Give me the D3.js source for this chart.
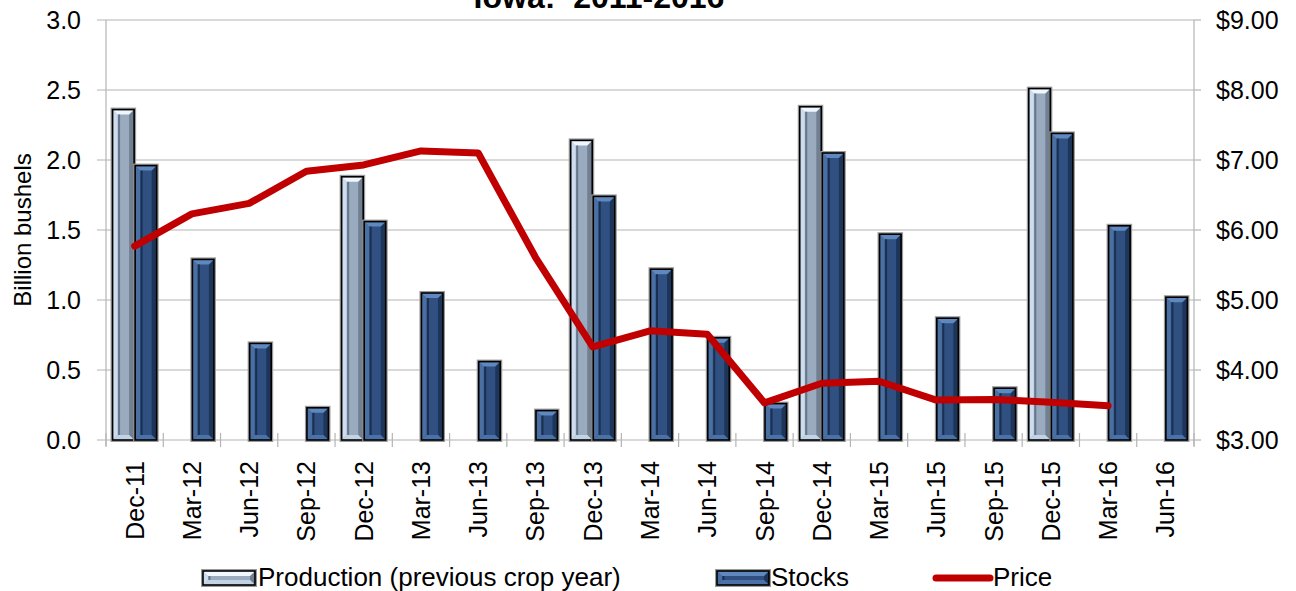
<!DOCTYPE html>
<html><head><meta charset="utf-8">
<script src="https://cdn.jsdelivr.net/npm/d3@7"></script>
<style>body{margin:0;background:#fff;} svg{display:block;font-family:"Liberation Sans",Arial,sans-serif;}</style>
</head><body>
<svg id="c" width="1296" height="591"></svg>
<script>
const categories = ["Dec-11","Mar-12","Jun-12","Sep-12","Dec-12","Mar-13","Jun-13","Sep-13","Dec-13","Mar-14","Jun-14","Sep-14","Dec-14","Mar-15","Jun-15","Sep-15","Dec-15","Mar-16","Jun-16"];
const production = [2.36,null,null,null,1.88,null,null,null,2.14,null,null,null,2.38,null,null,null,2.51,null,null];
const stocks = [1.96,1.29,0.69,0.23,1.56,1.05,0.56,0.21,1.74,1.22,0.73,0.26,2.05,1.47,0.87,0.37,2.19,1.53,1.02];
const price = [5.77,6.23,6.38,6.84,6.93,7.13,7.10,5.61,4.33,4.56,4.51,3.53,3.81,3.84,3.57,3.58,3.54,3.49,null];
const leftTicks = [0,0.5,1.0,1.5,2.0,2.5,3.0];
const rightTicks = [3,4,5,6,7,8,9];
const titleText = "Iowa:  2011-2016";
const seriesNames = ["Production (previous crop year)","Stocks","Price"];

const svg = d3.select("#c");
const L = 106, R = 1194, T = 20, B = 440;
const x0 = d3.scaleBand().domain(categories).range([L, R]).padding(0);
const x1 = d3.scaleBand().domain(["prod","stocks"]).range([0, x0.bandwidth()]).paddingInner(0).paddingOuter(0.27);
const y = d3.scaleLinear().domain([0,3]).range([B, T]);
const y2 = d3.scaleLinear().domain([3,9]).range([B, T]);
const grid = "#b4b4b4";

svg.append("g").selectAll("line").data(leftTicks).join("line")
  .attr("x1", L-9).attr("x2", R).attr("y1", d=>y(d)).attr("y2", d=>y(d))
  .attr("stroke", grid).attr("stroke-width", 1.2);
svg.append("g").selectAll("line").data(rightTicks).join("line")
  .attr("x1", R).attr("x2", R+7).attr("y1", d=>y2(d)).attr("y2", d=>y2(d))
  .attr("stroke", grid).attr("stroke-width", 1.2);
svg.append("line").attr("x1",L).attr("x2",L).attr("y1",T).attr("y2",B+6).attr("stroke",grid).attr("stroke-width",1.2);
svg.append("line").attr("x1",R).attr("x2",R).attr("y1",T).attr("y2",B+6).attr("stroke",grid).attr("stroke-width",1.2);
const bounds = categories.map(c=>x0(c)).concat([R]);
svg.append("g").selectAll("line").data(bounds).join("line")
  .attr("x1", d=>d).attr("x2", d=>d).attr("y1", B-7).attr("y2", B+7)
  .attr("stroke", grid).attr("stroke-width", 1.2);

svg.append("g").selectAll("text").data(leftTicks).join("text")
  .attr("x", 81).attr("y", d=>y(d)).attr("dy","0.36em").attr("text-anchor","end")
  .attr("font-size", 25).attr("fill","#000").text(d=>d.toFixed(1));
svg.append("g").selectAll("text").data(rightTicks).join("text")
  .attr("x", 1216).attr("y", d=>y2(d)).attr("dy","0.36em").attr("text-anchor","start")
  .attr("font-size", 25).attr("fill","#000").text(d=>"$"+d.toFixed(2));
svg.append("g").selectAll("text").data(categories).join("text")
  .attr("transform", d=>`translate(${x0(d)+x0.bandwidth()/2},461) rotate(-90)`)
  .attr("dy","0.36em").attr("text-anchor","end").attr("font-size",25).attr("fill","#000").text(d=>d);
svg.append("text").attr("transform","translate(22,230) rotate(-90)").attr("text-anchor","middle")
  .attr("dy","0.36em").attr("font-size",24).text("Billion bushels");
svg.append("text").attr("x",599).attr("y",8).attr("text-anchor","middle").attr("font-weight","bold")
  .attr("font-size",32).style("white-space","pre").text(titleText);

const pal = {
  prod: {main:"#9babbf", left:"#cddcee", right:"#717f92", top:"#f0f6fd", bottom:"#c2d3e6", inner:"#66768a"},
  stocks: {main:"#2f5081", left:"#4a6fa2", right:"#1d3558", top:"#5e88be", bottom:"#4a72a8", inner:"#1b3050"}
};
function bevelBar(g, x, yy, w, h, p){
  const b = Math.min(5, h/2, w/2);
  g.append("rect").attr("x",x-1).attr("y",yy-1).attr("width",w+2).attr("height",h+2).attr("fill","none").attr("stroke","#9a9a9a").attr("stroke-width",2);
  g.append("rect").attr("x",x).attr("y",yy).attr("width",w).attr("height",h).attr("fill",p.main);
  const poly = (pts,f)=>g.append("polygon").attr("points",pts.map(q=>q.join(",")).join(" ")).attr("fill",f);
  poly([[x,yy],[x+b,yy+b],[x+b,yy+h-b],[x,yy+h]], p.left);
  poly([[x+w,yy],[x+w-b,yy+b],[x+w-b,yy+h-b],[x+w,yy+h]], p.right);
  poly([[x,yy],[x+w,yy],[x+w-b,yy+b],[x+b,yy+b]], p.top);
  poly([[x,yy+h],[x+w,yy+h],[x+w-b,yy+h-b],[x+b,yy+h-b]], p.bottom);
  if (h > 2*b+2) g.append("line").attr("x1",x+b+1.5).attr("x2",x+b+1.5).attr("y1",yy+b).attr("y2",yy+h-b).attr("stroke",p.inner).attr("stroke-width",2);
  g.append("rect").attr("x",x).attr("y",yy).attr("width",w).attr("height",h).attr("fill","none").attr("stroke","#000").attr("stroke-width",1.6);
}
const bars = svg.append("g");
categories.forEach((c,i)=>{
  if (production[i] != null) {
    const v = production[i];
    bevelBar(bars, x0(c)+x1("prod")+0.5, y(v), x1.bandwidth()-1, y(0)-y(v), pal.prod);
  }
  if (stocks[i] != null) {
    const v = stocks[i];
    bevelBar(bars, x0(c)+x1("stocks")+0.5, y(v), x1.bandwidth()-1, y(0)-y(v), pal.stocks);
  }
});

const pts = categories.map((c,i)=>({c, v:price[i]})).filter(d=>d.v!=null);
svg.append("path").datum(pts)
  .attr("d", d3.line().x(d=>x0(d.c)+x0.bandwidth()/2).y(d=>y2(d.v)))
  .attr("fill","none").attr("stroke","#c00000").attr("stroke-width",7).attr("stroke-linejoin","round").attr("stroke-linecap","round");

const lg = svg.append("g");
bevelBar(lg, 203, 571, 52, 14, pal.prod);
lg.append("text").attr("x",258).attr("y",577).attr("dy","0.36em").attr("font-size",26).text(seriesNames[0]);
bevelBar(lg, 717, 571, 52, 14, pal.stocks);
lg.append("text").attr("x",771).attr("y",577).attr("dy","0.36em").attr("font-size",26).text(seriesNames[1]);
lg.append("line").attr("x1",936).attr("x2",990).attr("y1",578).attr("y2",578).attr("stroke","#c00000").attr("stroke-width",7).attr("stroke-linecap","round");
lg.append("text").attr("x",993).attr("y",577).attr("dy","0.36em").attr("font-size",26).text(seriesNames[2]);
</script>
</body></html>
